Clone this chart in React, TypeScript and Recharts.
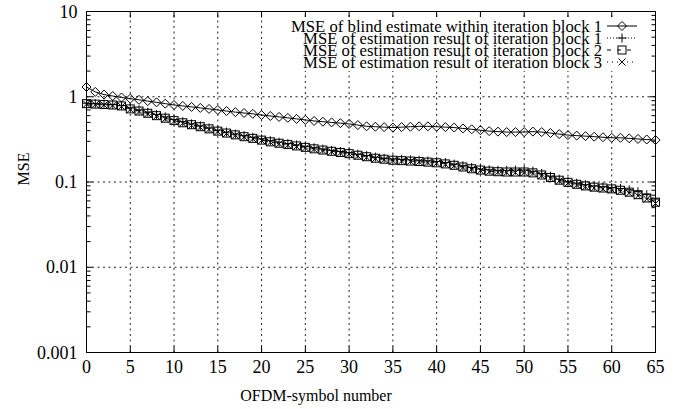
import { LineChart, Line, XAxis, YAxis, ReferenceLine, Legend } from 'recharts';

const FONT = '"Liberation Serif", "Times New Roman", serif';

// OFDM symbol index 0..65
const symbols = Array.from({ length: 66 }, (_, i) => i);

const blindBlock1 = [
  1.3, 1.14, 1.06, 1.02, 0.98, 0.95, 0.92, 0.89, 0.86, 0.83,
  0.8, 0.78, 0.76, 0.74, 0.72, 0.7, 0.68, 0.66, 0.645, 0.63,
  0.61, 0.595, 0.58, 0.565, 0.55, 0.535, 0.52, 0.51, 0.5, 0.49,
  0.48, 0.465, 0.45, 0.445, 0.44, 0.435, 0.44, 0.445, 0.45, 0.45,
  0.445, 0.44, 0.435, 0.425, 0.415, 0.405, 0.395, 0.39, 0.385, 0.385,
  0.385, 0.39, 0.385, 0.375, 0.365, 0.355, 0.35, 0.345, 0.34, 0.335,
  0.33, 0.33, 0.325, 0.32, 0.315, 0.31,
];

const estBlock1 = [
  0.84, 0.83, 0.82, 0.81, 0.79, 0.74, 0.7, 0.66, 0.62, 0.58,
  0.54, 0.51, 0.48, 0.455, 0.43, 0.405, 0.385, 0.365, 0.35, 0.335,
  0.32, 0.305, 0.293, 0.282, 0.272, 0.262, 0.252, 0.243, 0.235, 0.228,
  0.221, 0.212, 0.204, 0.196, 0.19, 0.186, 0.184, 0.182, 0.18, 0.177,
  0.174, 0.169, 0.162, 0.155, 0.148, 0.142, 0.139, 0.137, 0.137, 0.138,
  0.138, 0.134, 0.126, 0.117, 0.108, 0.102, 0.097, 0.093, 0.09, 0.088,
  0.086, 0.084, 0.081, 0.077, 0.071, 0.063,
];

const estBlock2 = [
  0.83, 0.82, 0.81, 0.8, 0.78, 0.72, 0.68, 0.64, 0.6, 0.56,
  0.525, 0.495, 0.47, 0.445, 0.42, 0.395, 0.375, 0.357, 0.34, 0.325,
  0.31, 0.296, 0.285, 0.275, 0.265, 0.255, 0.245, 0.237, 0.229, 0.222,
  0.215, 0.206, 0.198, 0.19, 0.185, 0.18, 0.178, 0.176, 0.174, 0.171,
  0.168, 0.163, 0.157, 0.15, 0.143, 0.138, 0.134, 0.132, 0.131, 0.131,
  0.131, 0.128, 0.121, 0.113, 0.105, 0.099, 0.094, 0.09, 0.087, 0.085,
  0.083, 0.08, 0.076, 0.071, 0.065, 0.058,
];

const estBlock3 = [
  0.82, 0.81, 0.8, 0.79, 0.77, 0.71, 0.67, 0.63, 0.59, 0.55,
  0.515, 0.487, 0.462, 0.438, 0.414, 0.39, 0.37, 0.352, 0.336, 0.321,
  0.306, 0.292, 0.281, 0.271, 0.261, 0.251, 0.242, 0.234, 0.226, 0.219,
  0.212, 0.203, 0.195, 0.188, 0.183, 0.178, 0.176, 0.174, 0.172, 0.169,
  0.166, 0.161, 0.155, 0.148, 0.141, 0.136, 0.132, 0.13, 0.129, 0.129,
  0.129, 0.126, 0.119, 0.111, 0.103, 0.097, 0.092, 0.088, 0.085, 0.083,
  0.081, 0.078, 0.074, 0.069, 0.063, 0.056,
];

const xTicks = [0, 5, 10, 15, 20, 25, 30, 35, 40, 45, 50, 55, 60, 65];
const yMajor = [0.001, 0.01, 0.1, 1, 10];
const yTickLabels = ['0.001', '0.01', '0.1', '1', '10'];
const minorSteps = [2, 3, 4, 5, 6, 7, 8, 9];
const yTicks = yMajor.flatMap((d) =>
  d < 10 ? [d, ...minorSteps.map((m) => +(d * m).toPrecision(3))] : [d]
);

const seriesNames = [
  'MSE of blind estimate within iteration block 1',
  'MSE of estimation result of iteration block 1',
  'MSE of estimation result of iteration block 2',
  'MSE of estimation result of iteration block 3',
];

const data = symbols.map((s, i) => ({
  s,
  blind: blindBlock1[i],
  e1: estBlock1[i],
  e2: estBlock2[i],
  e3: estBlock3[i],
}));

// markers
const Diamond = ({ cx, cy }: any) => (
  <path d={`M${cx},${cy - 4.5}L${cx + 4.5},${cy}L${cx},${cy + 4.5}L${cx - 4.5},${cy}Z`} fill="none" stroke="#000" strokeWidth={1} />
);
const Plus = ({ cx, cy }: any) => (
  <path d={`M${cx - 4.5},${cy}H${cx + 4.5}M${cx},${cy - 4.5}V${cy + 4.5}`} stroke="#000" strokeWidth={1} />
);
const Square = ({ cx, cy }: any) => (
  <rect x={cx - 4} y={cy - 4} width={8} height={8} fill="none" stroke="#000" strokeWidth={1} />
);
const Cross = ({ cx, cy }: any) => (
  <path d={`M${cx - 3.5},${cy - 3.5}L${cx + 3.5},${cy + 3.5}M${cx - 3.5},${cy + 3.5}L${cx + 3.5},${cy - 3.5}`} stroke="#000" strokeWidth={1} />
);

const markers = [Diamond, Plus, Square, Cross];
const dashes = [undefined, '1 2', '4 6', '1 4'];

const LeftTick = ({ x, y, payload }: any) => {
  const idx = yMajor.indexOf(payload.value);
  const major = idx >= 0;
  return (
    <g>
      <line x1={x + 9} y1={y} x2={x + 9 + (major ? 6 : 4)} y2={y} stroke="#000" />
      {major && (
        <text x={x} y={y} textAnchor="end" dominantBaseline="central" fontFamily={FONT} fontSize={18} fill="#000">
          {yTickLabels[idx]}
        </text>
      )}
    </g>
  );
};

const RightTick = ({ x, y, payload }: any) => {
  const major = yMajor.includes(payload.value);
  return <line x1={x - (major ? 6 : 4)} y1={y} x2={x} y2={y} stroke="#000" />;
};

const BottomTick = ({ x, y, payload }: any) => (
  <g>
    <line x1={x} y1={y - 8} x2={x} y2={y - 14} stroke="#000" />
    <text x={x} y={y} dy="0.7em" textAnchor="middle" fontFamily={FONT} fontSize={18} fill="#000">
      {payload.value}
    </text>
  </g>
);

const TopTick = ({ x, y }: any) => <line x1={x} y1={y} x2={x} y2={y + 6} stroke="#000" />;

const renderLegend = () => (
  <svg width={685} height={80} style={{ display: 'block' }}>
    <rect x={285} y={17} width={363} height={54} fill="#fff" />
    {seriesNames.map((name, i) => {
      const y = 26 + i * 12;
      const M = markers[i];
      return (
        <g key={name}>
          <text x={602} y={y} textAnchor="end" dominantBaseline="central" fontFamily={FONT} fontSize={16.7} fill="#000">
            {name}
          </text>
          <line x1={607} y1={y} x2={637} y2={y} stroke="#000" strokeDasharray={dashes[i]} />
          <M cx={622} cy={y} />
        </g>
      );
    })}
  </svg>
);

export default function App() {
  const keys = ['blind', 'e1', 'e2', 'e3'];
  return (
    <div style={{ position: 'absolute', left: 0, top: 0, background: '#fff' }}>
      <LineChart width={685} height={409} data={data} margin={{ top: 0, right: 0, bottom: 6.5, left: 0 }}>
        <XAxis
          dataKey="s"
          type="number"
          domain={[0, 65]}
          ticks={xTicks}
          interval={0}
          height={50}
          tickSize={0}
          tickMargin={8}
          tickLine={false}
          axisLine={{ stroke: '#000' }}
          tick={<BottomTick />}
          label={{
            content: ({ viewBox }: any) => (
              <text x={viewBox.x + 229.5} y={viewBox.y + 48} textAnchor="middle" fontFamily={FONT} fontSize={16} fill="#000">
                OFDM-symbol number
              </text>
            ),
          }}
        />
        <XAxis
          xAxisId="t"
          orientation="top"
          dataKey="s"
          type="number"
          domain={[0, 65]}
          ticks={xTicks}
          interval={0}
          height={11.5}
          tickSize={0}
          tickMargin={0}
          tickLine={false}
          axisLine={{ stroke: '#000' }}
          tick={<TopTick />}
        />
        <YAxis
          scale="log"
          type="number"
          domain={[0.001, 10]}
          allowDataOverflow
          ticks={yTicks}
          interval={0}
          width={86.5}
          tickSize={0}
          tickMargin={9}
          tickLine={false}
          axisLine={{ stroke: '#000' }}
          tick={<LeftTick />}
          label={{
            content: ({ viewBox }: any) => (
              <text
                x={23.5}
                y={viewBox.y + viewBox.height / 2 - 13}
                transform={`rotate(-90 23.5 ${viewBox.y + viewBox.height / 2 - 13})`}
                textAnchor="middle"
                dominantBaseline="central"
                fontFamily={FONT}
                fontSize={16}
                fill="#000"
              >
                MSE
              </text>
            ),
          }}
        />
        <YAxis
          yAxisId="r"
          orientation="right"
          scale="log"
          type="number"
          domain={[0.001, 10]}
          allowDataOverflow
          ticks={yTicks}
          interval={0}
          width={29.5}
          tickSize={0}
          tickMargin={0}
          tickLine={false}
          axisLine={{ stroke: '#000' }}
          tick={<RightTick />}
        />
        {yMajor.slice(1, -1).map((v) => (
          <ReferenceLine key={`gy-${v}`} y={v} stroke="#222" strokeDasharray="2 3.5" />
        ))}
        {xTicks.slice(1, -1).map((v) => (
          <ReferenceLine key={`gx-${v}`} x={v} stroke="#222" strokeDasharray="2 3.5" />
        ))}
        {keys.map((k, i) => {
          const M = markers[i];
          return (
            <Line
              key={k}
              dataKey={k}
              name={seriesNames[i]}
              stroke="#000"
              strokeWidth={1}
              strokeDasharray={dashes[i]}
              isAnimationActive={false}
              dot={(p: any) => <M key={`${k}-${p.index}`} cx={p.cx} cy={p.cy} />}
              activeDot={false}
            />
          );
        })}
        <Legend
          layout="horizontal"
          verticalAlign="middle"
          align="center"
          content={renderLegend}
          wrapperStyle={{ position: 'absolute', left: 0, top: 0, width: 685, height: 80, pointerEvents: 'none' }}
        />
      </LineChart>
    </div>
  );
}
